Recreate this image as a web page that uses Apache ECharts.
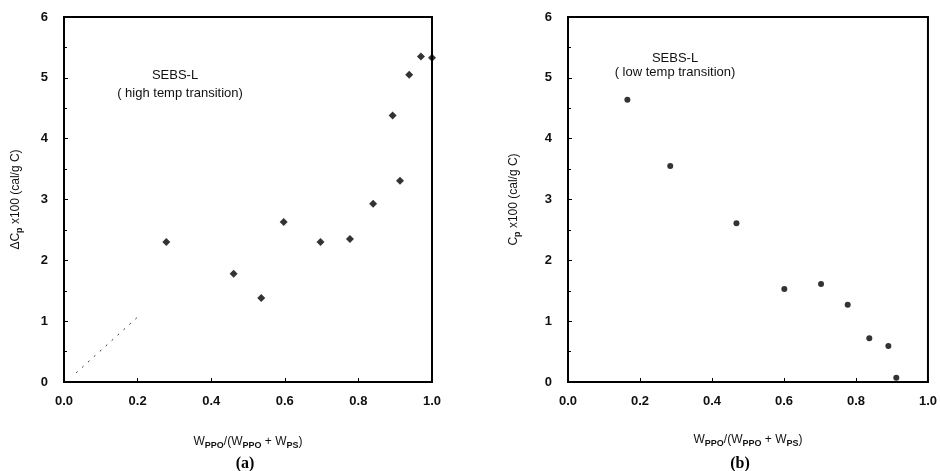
<!DOCTYPE html>
<html><head><meta charset="utf-8">
<script src="https://cdn.jsdelivr.net/npm/echarts@6/dist/echarts.min.js"></script>
<style>html,body{margin:0;padding:0;background:#fff}#c{width:940px;height:471px}</style>
</head><body><div id="c"></div>
<script>
// Panel (a): high temp transition
const highX = [0.278, 0.461, 0.536, 0.597, 0.697, 0.777, 0.840, 0.893, 0.913, 0.938, 0.970, 1.000];
const highY = [2.30, 1.78, 1.38, 2.63, 2.30, 2.35, 2.93, 4.38, 3.31, 5.05, 5.35, 5.33];
const guideX = [0.033, 0.204];
const guideY = [0.15, 1.09];
// Panel (b): low temp transition
const lowX = [0.165, 0.284, 0.468, 0.601, 0.703, 0.777, 0.837, 0.890, 0.912];
const lowY = [4.64, 3.55, 2.61, 1.53, 1.61, 1.27, 0.72, 0.59, 0.07];
const xTicks = ['0.0', '0.2', '0.4', '0.6', '0.8', '1.0'];
const yTicks = ['0', '1', '2', '3', '4', '5', '6'];

const zip = (a, b) => a.map((v, i) => [v, b[i]]);
const F = 'Liberation Sans, Arial, sans-serif';
const rich = {
  n: {fontFamily: F, fontSize: 12, fontWeight: 'normal', color: '#111'},
  sub: {fontFamily: F, fontSize: 9, fontWeight: 'bold', color: '#111', verticalAlign: 'bottom', padding: [7, 0, 0, 0]}
};
function xAxis(gi, gap) {
  return {
    type: 'value', gridIndex: gi, min: 0, max: 1, interval: 0.2,
    axisLine: {show: true, lineStyle: {color: '#000', width: 2}},
    axisTick: {show: true, inside: true, length: 4, lineStyle: {color: '#000'}},
    splitLine: {show: false},
    axisLabel: {margin: 13, fontFamily: F, fontSize: 13, fontWeight: 'bold', color: '#111',
      formatter: v => xTicks[Math.round(v / 0.2)]},
    name: '{n|W}{sub|PPO}{n|/(W}{sub|PPO}{n| + W}{sub|PS}{n|)}',
    nameLocation: 'middle', nameGap: gap, nameTextStyle: {rich: rich}
  };
}
function yAxis(gi, name, gap) {
  return {
    type: 'value', gridIndex: gi, min: 0, max: 6, interval: 1,
    axisLine: {show: true, lineStyle: {color: '#000', width: 2}},
    axisTick: {show: true, inside: true, length: 4, lineStyle: {color: '#000'}},
    minorTick: {show: true, splitNumber: 2, length: 3, lineStyle: {color: '#000'}},
    splitLine: {show: false},
    axisLabel: {margin: 16, fontFamily: F, fontSize: 13, fontWeight: 'bold', color: '#111',
      formatter: v => yTicks[Math.round(v)]},
    name: name, nameLocation: 'middle', nameGap: gap, nameRotate: 90,
    nameTextStyle: {rich: rich}
  };
}
const tStyle = {fontFamily: F, fontSize: 13, fontWeight: 'normal', color: '#111'};
const chart = echarts.init(document.getElementById('c'));
chart.setOption({
  backgroundColor: '#fff',
  animation: false,
  grid: [
    {left: 64, top: 17, width: 368, height: 365, show: true, borderColor: '#000', borderWidth: 2},
    {left: 568, top: 17, width: 362, height: 365, show: true, borderColor: '#000', borderWidth: 2}
  ],
  title: [
    {text: 'SEBS-L', left: 170, top: 64, textAlign: 'center', textStyle: tStyle},
    {text: '( high temp transition)', left: 175, top: 82, textAlign: 'center', textStyle: tStyle},
    {text: 'SEBS-L', left: 670, top: 47, textAlign: 'center', textStyle: tStyle},
    {text: '( low temp transition)', left: 670, top: 61, textAlign: 'center', textStyle: tStyle},
    {text: '(a)', left: 240, top: 451, textAlign: 'center', textStyle: {fontFamily: 'Liberation Serif, serif', fontSize: 16, fontWeight: 'bold', color: '#000'}},
    {text: '(b)', left: 735, top: 451, textAlign: 'center', textStyle: {fontFamily: 'Liberation Serif, serif', fontSize: 16, fontWeight: 'bold', color: '#000'}}
  ],
  xAxis: [xAxis(0, 52), xAxis(1, 50)],
  yAxis: [
    yAxis(0, '{n|\u0394C}{sub|p}{n| x100 (cal/g C)}', 40),
    yAxis(1, '{n|C}{sub|p}{n| x100 (cal/g C)}', 46)
  ],
  series: [
    {type: 'scatter', xAxisIndex: 0, yAxisIndex: 0, symbol: 'diamond', symbolSize: 8,
      itemStyle: {color: '#000'}, data: zip(highX, highY)},
    {type: 'line', xAxisIndex: 0, yAxisIndex: 0, symbol: 'none',
      lineStyle: {color: '#333', width: 1, type: [2, 6]}, data: zip(guideX, guideY)},
    {type: 'scatter', xAxisIndex: 1, yAxisIndex: 1, symbol: 'circle', symbolSize: 6,
      itemStyle: {color: '#000'}, data: zip(lowX, lowY)}
  ]
});
</script></body></html>
